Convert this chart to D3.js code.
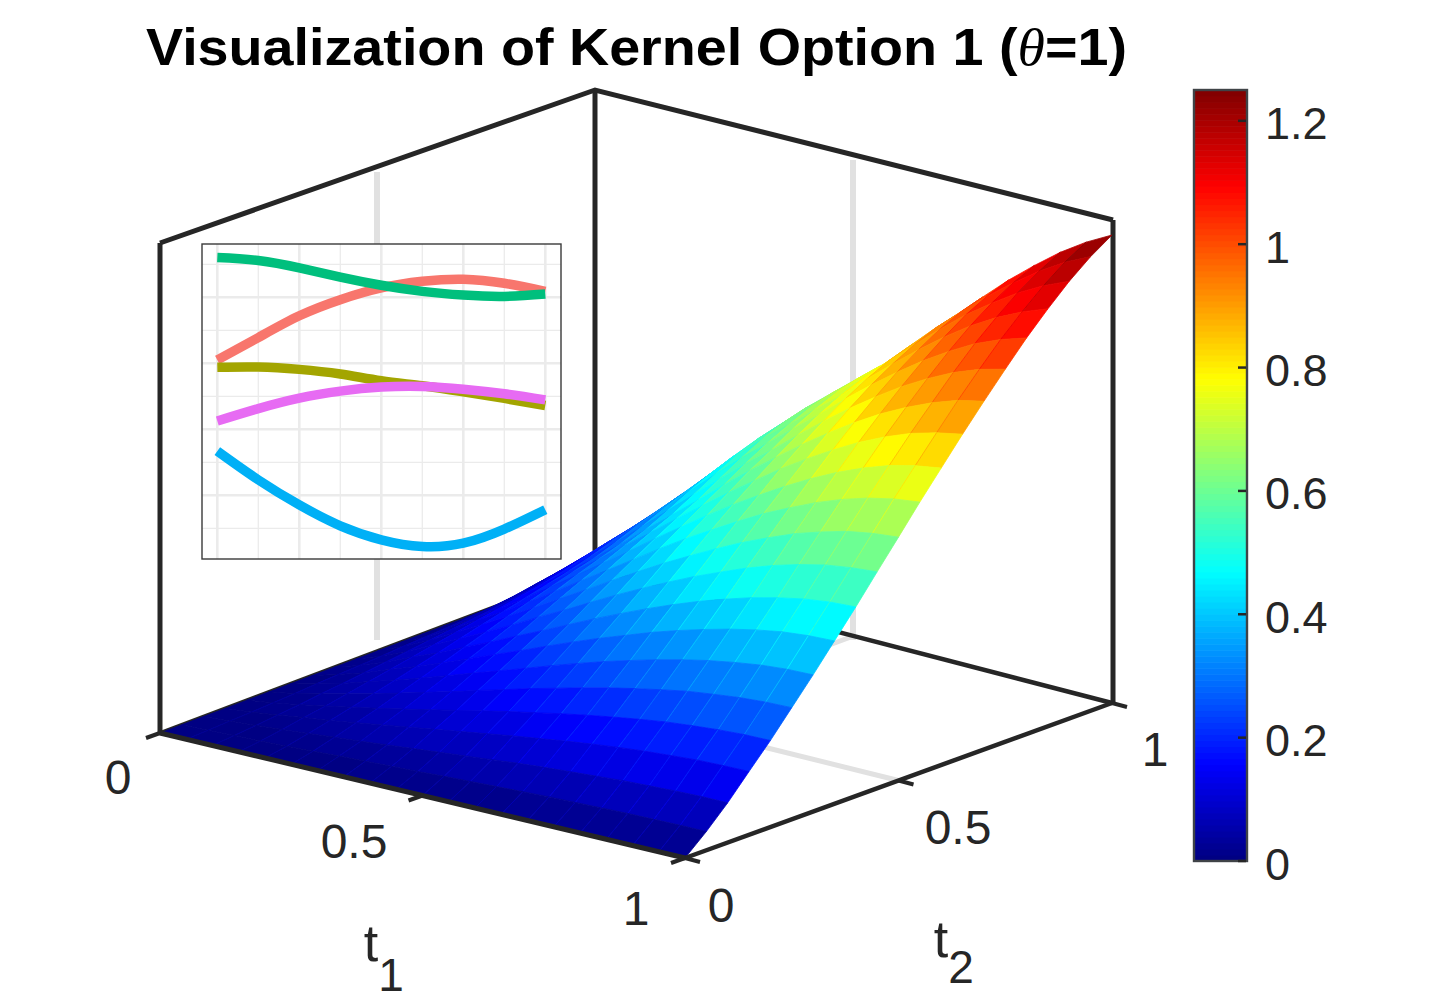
<!DOCTYPE html>
<html><head><meta charset="utf-8">
<script src="https://cdn.jsdelivr.net/npm/d3@7"></script>
<style>html,body{margin:0;padding:0;background:#fff}svg{display:block}text{font-family:"Liberation Sans",Arial,sans-serif;fill:#262626}</style>
</head><body><svg id="c" width="1434" height="1003"></svg>
<script>
// ---- data ----
const titleText = "Visualization of Kernel Option 1 (";
const axisTicks = [0, 0.5, 1];
const colorTicks = [0, 0.2, 0.4, 0.6, 0.8, 1, 1.2];
const colorMax = 1.25;
const gridT = [0,.05,.1,.15,.2,.25,.3,.35,.4,.45,.5,.55,.6,.65,.7,.75,.8,.85,.9,.95,1];
// rows: t1 = 0..1, columns: t2 = 0..1
const kernelSurface = [
[0,0,0,0,0,0,0,0,0,0,0,0,0,0,0,0,0,0,0,0,0],
[0,.002,.005,.007,.010,.013,.017,.020,.023,.026,.030,.033,.036,.040,.045,.052,.062,.072,.081,.087,.090],
[0,.005,.010,.016,.022,.029,.035,.042,.049,.056,.063,.070,.077,.084,.091,.102,.117,.130,.141,.148,.150],
[0,.007,.016,.026,.035,.046,.057,.068,.079,.090,.101,.112,.122,.133,.144,.158,.175,.190,.203,.212,.215],
[0,.010,.022,.035,.049,.063,.078,.093,.108,.124,.139,.153,.167,.181,.195,.212,.232,.250,.265,.276,.280],
[0,.013,.029,.046,.063,.082,.101,.120,.140,.159,.179,.197,.215,.232,.248,.269,.293,.313,.331,.342,.345],
[0,.017,.035,.057,.078,.101,.124,.148,.171,.195,.219,.242,.264,.284,.303,.328,.354,.377,.398,.411,.415],
[0,.020,.042,.068,.093,.120,.148,.176,.204,.233,.261,.288,.313,.338,.360,.389,.419,.446,.468,.481,.485],
[0,.023,.049,.079,.108,.140,.171,.204,.236,.269,.302,.333,.363,.391,.417,.449,.482,.511,.535,.550,.555],
[0,.026,.056,.090,.124,.159,.195,.233,.269,.307,.344,.379,.413,.445,.474,.509,.543,.573,.597,.613,.620],
[0,.030,.063,.101,.139,.179,.219,.261,.302,.344,.385,.425,.462,.498,.532,.567,.600,.628,.653,.670,.680],
[0,.033,.070,.112,.153,.197,.242,.288,.333,.379,.425,.469,.510,.550,.588,.621,.657,.686,.710,.727,.738],
[0,.036,.077,.122,.167,.215,.264,.313,.363,.413,.462,.510,.556,.599,.640,.678,.712,.741,.765,.782,.793],
[0,.039,.083,.132,.180,.232,.284,.338,.391,.445,.498,.550,.599,.648,.692,.733,.771,.803,.830,.849,.863],
[0,.042,.088,.141,.192,.247,.303,.360,.417,.474,.532,.588,.640,.692,.740,.785,.826,.861,.891,.915,.930],
[0,.044,.093,.149,.203,.261,.320,.380,.440,.502,.562,.621,.678,.733,.785,.833,.878,.917,.951,.977,.995],
[0,.046,.098,.156,.213,.274,.335,.398,.461,.526,.590,.652,.712,.771,.826,.878,.926,.969,1.007,1.036,1.058],
[0,.048,.101,.161,.220,.283,.347,.413,.478,.546,.612,.678,.741,.803,.861,.917,.969,1.016,1.056,1.089,1.115],
[0,.049,.104,.166,.226,.291,.357,.425,.492,.562,.631,.699,.765,.830,.891,.951,1.007,1.056,1.101,1.138,1.168],
[0,.050,.106,.168,.230,.296,.363,.432,.501,.572,.643,.714,.782,.849,.915,.977,1.036,1.089,1.138,1.180,1.213],
[0,.05,.106,.169,.231,.298,.365,.435,.505,.578,.65,.723,.793,.863,.93,.995,1.058,1.115,1.168,1.213,1.25]
];
const insetX = [0,.125,.25,.375,.5,.625,.75,.875,1];
const insetSalmon  = [.025,.195,.360,.482,.571,.621,.637,.606,.545];
const insetOlive   = [-.030,-.028,-.046,-.081,-.132,-.170,-.216,-.266,-.320];
const insetGreen   = [.801,.779,.723,.652,.591,.545,.517,.507,.525];
const insetBlue    = [-.665,-.883,-1.073,-1.231,-1.337,-1.388,-1.363,-1.256,-1.109];
const insetMagenta = [-.437,-.343,-.264,-.211,-.180,-.175,-.196,-.231,-.277];
const insetColors  = ["#F8766D","#A3A500","#00BF7D","#00B0F6","#E76BF3"];
const insetYMajor = [-1,-.5,0,.5];
const insetYMinor = [-1.25,-.75,-.25,.25,.75];
const insetXMajor = [0,.25,.5,.75,1];
const insetXMinor = [.125,.375,.625,.875];
const jetPos = [0,.125,.375,.625,.875,1];
const jetCol = ["#00007f","#0000ff","#00ffff","#ffff00","#ff0000","#7f0000"];

// ---- scales ----
const svg = d3.select("#c");
const ink = "#262626";
const levels = 128;
const unit = d3.scaleLinear().domain([0,1]);
const near = {x:unit.copy().range([160,685]), y:unit.copy().range([733,858])};
const far  = {x:unit.copy().range([595,1112]), y:unit.copy().range([569,703])};
const zPx = d3.scaleLinear().domain([0,1.25]).range([0,468]);
function P(t1,t2,z=0){
  const x = d3.scaleLinear().domain([0,1]).range([near.x(t1),far.x(t1)])(t2);
  const y = d3.scaleLinear().domain([0,1]).range([near.y(t1),far.y(t1)])(t2);
  return [x, y - zPx(z)];
}
const jetBase = d3.scaleLinear().domain(jetPos).range(jetCol).clamp(true);
const jet = z => jetBase((Math.min(levels-1,Math.floor(z/colorMax*levels))+.5)/levels);
const seg = (g,a,b,w,c) => g.append("line").attr("x1",a[0]).attr("y1",a[1]).attr("x2",b[0]).attr("y2",b[1])
  .attr("stroke",c).attr("stroke-width",w).attr("stroke-linecap","butt");

// ---- back of the box ----
const back = svg.append("g");
const gridC = "#e1e1e1";
seg(back,[377,172],[377,640],6,gridC);
seg(back,[853,160],[853,640],6,gridC);
seg(back,P(.5,0),P(.5,1),5,gridC);
seg(back,P(0,.5),P(1,.5),5,gridC);
seg(back,P(0,0),P(0,1),4,ink);
seg(back,P(0,1),P(1,1),4.5,ink);
seg(back,[595,569],[595,90],5,ink);
seg(back,[160,735],[160,243],5,ink);
seg(back,[1113,705],[1113,220],5,ink);
back.append("path").attr("fill","none").attr("stroke",ink).attr("stroke-width",5)
  .attr("stroke-linejoin","miter")
  .attr("d",d3.line()([[160,243],[595,90],[1113,220]]));

// ---- surface ----
const surf = svg.append("g");
const line = d3.line();
for(let j=gridT.length-2;j>=0;j--) for(let i=0;i<gridT.length-1;i++){
  const a=kernelSurface[i][j],b=kernelSurface[i+1][j],c=kernelSurface[i+1][j+1],d=kernelSurface[i][j+1];
  const col=jet((a+b+c+d)/4);
  surf.append("path")
    .attr("d",line([P(gridT[i],gridT[j],a),P(gridT[i+1],gridT[j],b),P(gridT[i+1],gridT[j+1],c),P(gridT[i],gridT[j+1],d)])+"Z")
    .attr("fill",col).attr("stroke",col).attr("stroke-width",.8).attr("stroke-linejoin","round");
  if(i>0) surf.append("path")
    .attr("d",line([P(gridT[i],gridT[j],a),P(gridT[i],gridT[j+1],d)]))
    .attr("fill","none").attr("stroke",jet(d+.03)).attr("stroke-width",1).attr("opacity",.8);
}

// ---- front axes and ticks ----
const front = svg.append("g");
seg(front,P(0,0),P(1,0),5,ink);
seg(front,P(1,0),P(1,1),4.5,ink);
axisTicks.forEach(v=>{
  const a=P(v,0); seg(front,a,[a[0]-14,a[1]+5],4,ink);
  const b=P(1,v); seg(front,b,[b[0]+15,b[1]+4],4,ink);
});
const fs=48;
const lab=(x,y,t,size=fs)=>svg.append("text").attr("x",x).attr("y",y).attr("text-anchor","middle").attr("dominant-baseline","central").attr("font-size",size).text(t);
[[118,777],[354,841],[636,908]].forEach((p,i)=>lab(p[0],p[1],axisTicks[i]));
[[721,905],[958,827],[1155,749]].forEach((p,i)=>lab(p[0],p[1],axisTicks[i]));
lab(371,943,"t",52); lab(391,975,"1",46);
lab(941,939,"t",52); lab(961,967,"2",46);

// ---- title ----
const title=svg.append("text").attr("x",146).attr("y",47).attr("dominant-baseline","central")
  .attr("font-size",52).attr("font-weight","bold").style("fill","#000")
  .attr("textLength",981).attr("lengthAdjust","spacingAndGlyphs");
title.append("tspan").text(titleText);
title.append("tspan").attr("font-style","italic").attr("font-weight","normal").attr("font-family","Liberation Serif").text("θ");
title.append("tspan").text("=1)");

// ---- colour bar ----
const cb = d3.scaleLinear().domain([0,colorMax]).range([861,90]);
const cbar = svg.append("g");
cbar.selectAll("rect").data(d3.range(levels)).join("rect")
  .attr("x",1194).attr("width",53).attr("y",k=>cb((k+1)/levels*colorMax)).attr("height",k=>cb(k/levels*colorMax)-cb((k+1)/levels*colorMax)+.6)
  .attr("fill",k=>jet((k+.5)/levels*colorMax));
cbar.append("rect").attr("x",1194).attr("y",90).attr("width",53).attr("height",771).attr("fill","none").attr("stroke","#3f4347").attr("stroke-width",2.4);
colorTicks.forEach(v=>{
  seg(cbar,[1238,cb(v)],[1246,cb(v)],2.5,ink);
  svg.append("text").attr("x",1265).attr("y",cb(v)+3).attr("dominant-baseline","central").attr("font-size",45).text(v);
});

// ---- inset ----
const ix=d3.scaleLinear().domain([0,1]).range([217.3,545.3]);
const iy=d3.scaleLinear().domain([0,.5]).range([363.3,297.3]);
const inset=svg.append("g");
inset.append("rect").attr("x",202).attr("y",244).attr("width",359).attr("height",315).attr("fill","#fff");
const vg=(arr,w)=>arr.forEach(v=>seg(inset,[ix(v),244],[ix(v),559],w,"#ebebeb"));
const hg=(arr,w)=>arr.forEach(v=>seg(inset,[202,iy(v)],[561,iy(v)],w,"#ebebeb"));
hg(insetYMinor,1.3);vg(insetXMinor,1.3);hg(insetYMajor,2.6);vg(insetXMajor,2.6);
const il=d3.line().x((d,i)=>ix(insetX[i])).y(d=>iy(d)).curve(d3.curveNatural);
[insetSalmon,insetOlive,insetGreen,insetBlue,insetMagenta].forEach((s,k)=>{
  inset.append("path").attr("d",il(s)).attr("fill","none").attr("stroke",insetColors[k]).attr("stroke-width",9.5);
});
inset.append("rect").attr("x",202).attr("y",244).attr("width",359).attr("height",315).attr("fill","none").attr("stroke","#3a3a3a").attr("stroke-width",1.4);
</script></body></html>
